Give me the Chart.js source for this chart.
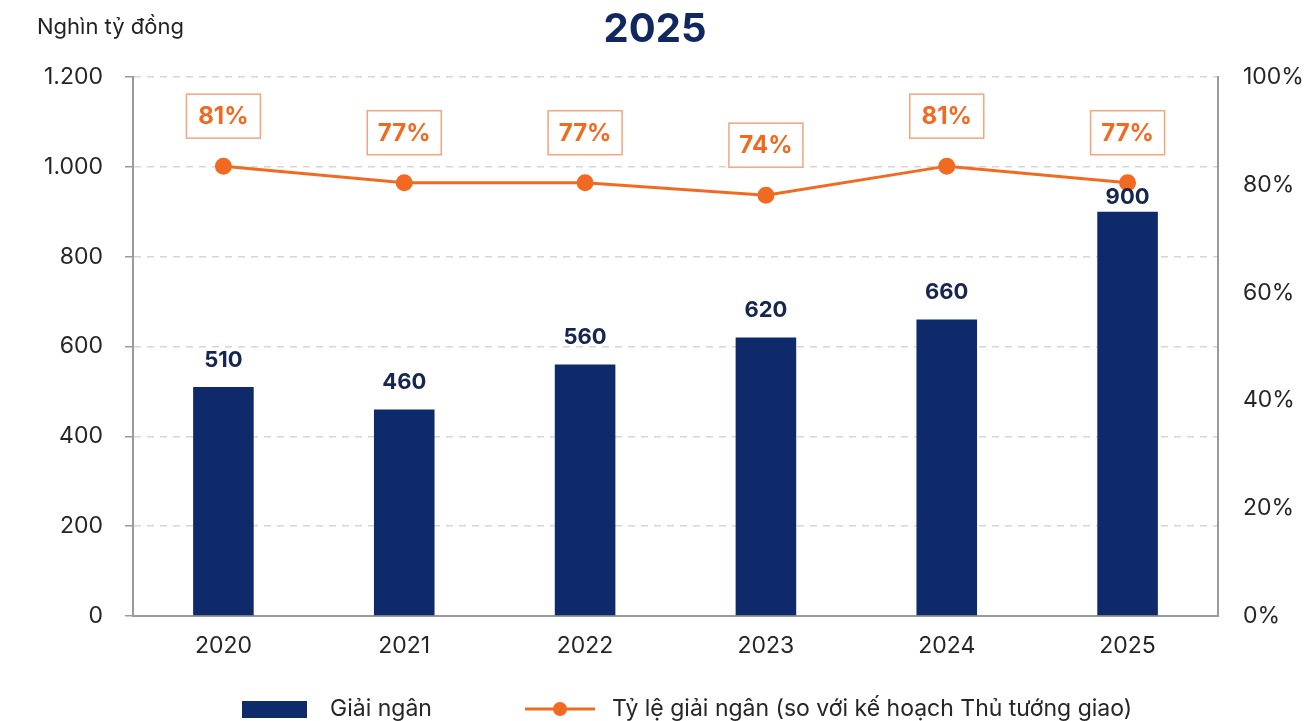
<!DOCTYPE html>
<html lang="vi">
<head>
<meta charset="utf-8">
<title>Giải ngân vốn đầu tư công</title>
<script src="https://cdn.jsdelivr.net/npm/chart.js@4.4.1/dist/chart.umd.min.js"></script>
<style>
  html, body { margin: 0; padding: 0; background: #fff; }
  #wrap { width: 1310px; height: 721px; position: relative; }
</style>
</head>
<body>
<div id="wrap"><canvas id="myChart"></canvas></div>
<script>
const years = ['2020', '2021', '2022', '2023', '2024', '2025'];
const disbursed = [510, 460, 560, 620, 660, 900];   // nghìn tỷ đồng
const rates = [81, 77, 77, 74, 81, 77];             // % so với kế hoạch

const seriesNames = ['Giải ngân', 'Tỷ lệ giải ngân (so với kế hoạch Thủ tướng giao)'];
const unitLabel = 'Nghìn tỷ đồng';
const titleText = '2025';

const NAVY = '#0f2a6b';
const NAVY_TEXT = '#16264f';
const ORANGE = '#f26a21';
const ORANGE_SOFT = '#f5a57a';
const AXIS = '#9a9a9a';
const TEXT = '#262626';
const FONT = 'Inter, "Noto Sans", sans-serif';

// 1200 -> "1.200"
function fmt(v) {
  return String(v).replace(/\B(?=(\d{3})+(?!\d))/g, '.');
}

// numbers over the bars + boxed percentages over the line
const valueLabels = {
  id: 'valueLabels',
  afterDatasetsDraw(chart) {
    const ctx = chart.ctx;
    const bars = chart.getDatasetMeta(0).data;
    const dots = chart.getDatasetMeta(1).data;
    ctx.save();
    ctx.textAlign = 'center';
    ctx.textBaseline = 'middle';

    ctx.font = 'bold 22px ' + FONT;
    ctx.fillStyle = NAVY_TEXT;
    bars.forEach((bar, i) => {
      let y = bar.y - 27;
      // pull the label closer to the bar when the dot is in the way
      if (Math.abs(y - dots[i].y) < 22) y = bar.y - 14;
      ctx.fillText(fmt(disbursed[i]), bar.x, y);
    });

    ctx.font = 'bold 24px ' + FONT;
    dots.forEach((pt, i) => {
      const cy = pt.y - 50;
      const w = 74, h = 44;
      ctx.fillStyle = '#fff';
      ctx.fillRect(pt.x - w / 2, cy - h / 2, w, h);
      ctx.strokeStyle = ORANGE_SOFT;
      ctx.lineWidth = 1.5;
      ctx.strokeRect(pt.x - w / 2, cy - h / 2, w, h);
      ctx.fillStyle = ORANGE;
      ctx.fillText(rates[i] + '%', pt.x, cy + 1);
    });
    ctx.restore();
  }
};

// unit caption top-left and the legend row at the bottom
const decorations = {
  id: 'decorations',
  afterDraw(chart) {
    const ctx = chart.ctx;
    ctx.save();
    ctx.textBaseline = 'middle';
    ctx.textAlign = 'left';
    ctx.fillStyle = '#222';
    ctx.font = '22px ' + FONT;
    ctx.fillText(unitLabel, 37, 27);

    const ly = 709;
    ctx.fillStyle = NAVY;
    ctx.fillRect(242, ly - 8, 65, 17);
    ctx.fillStyle = TEXT;
    ctx.font = '23px ' + FONT;
    ctx.fillText(seriesNames[0], 330, ly);

    ctx.strokeStyle = ORANGE;
    ctx.lineWidth = 3;
    ctx.beginPath();
    ctx.moveTo(525, ly);
    ctx.lineTo(595, ly);
    ctx.stroke();
    ctx.fillStyle = ORANGE;
    ctx.beginPath();
    ctx.arc(560, ly, 7, 0, Math.PI * 2);
    ctx.fill();
    ctx.fillStyle = TEXT;
    ctx.fillText(seriesNames[1], 612, ly);
    ctx.restore();
  }
};

new Chart(document.getElementById('myChart'), {
  type: 'bar',
  data: {
    labels: years,
    datasets: [
      {
        label: seriesNames[0],
        data: disbursed,
        backgroundColor: NAVY,
        categoryPercentage: 1,
        barPercentage: 0.335,
        yAxisID: 'y',
        order: 1
      },
      {
        type: 'line',
        label: seriesNames[1],
        data: rates,
        borderColor: ORANGE,
        backgroundColor: ORANGE,
        borderWidth: 3,
        pointRadius: 7,
        pointHoverRadius: 7,
        tension: 0,
        yAxisID: 'yRate',
        order: 0
      }
    ]
  },
  options: {
    responsive: true,
    maintainAspectRatio: false,
    animation: false,
    layout: { padding: { left: 0, right: 0, top: 0, bottom: 60 } },
    plugins: {
      legend: { display: false },
      tooltip: { enabled: false },
      title: {
        display: true,
        text: titleText,
        color: '#10275f',
        font: { family: FONT, size: 40, weight: 'bold', lineHeight: 1.2 },
        padding: { top: 6, bottom: 23 }
      }
    },
    scales: {
      x: {
        grid: { display: false },
        border: { display: true, color: AXIS, width: 2 },
        ticks: { color: TEXT, padding: 8, font: { family: FONT, size: 23 } },
        afterFit(scale) { scale.height = 45; }
      },
      y: {
        position: 'left',
        min: 0,
        max: 1200,
        ticks: {
          stepSize: 200,
          color: TEXT,
          padding: 22,
          font: { family: FONT, size: 23 },
          callback: (v) => fmt(v)
        },
        grid: {
          color: '#d6d6d6',
          lineWidth: 1.5,
          tickLength: 8,
          tickColor: AXIS,
          tickWidth: 1.5
        },
        border: { display: true, color: AXIS, width: 2, dash: [7, 6] },
        afterFit(scale) { scale.width = 133; }
      },
      yPct: {
        position: 'right',
        min: 0,
        max: 100,
        ticks: {
          stepSize: 20,
          color: TEXT,
          padding: 25,
          font: { family: FONT, size: 23 },
          callback: (v) => v + '%'
        },
        grid: { drawOnChartArea: false, drawTicks: false },
        border: { display: true, color: AXIS, width: 2 },
        afterFit(scale) { scale.width = 92; }
      },
      // the rate line gets its own stretched scale so it rides above the bars
      yRate: {
        display: false,
        min: -27.5,
        max: 102.5
      }
    }
  },
  plugins: [valueLabels, decorations]
});
</script>
</body>
</html>
